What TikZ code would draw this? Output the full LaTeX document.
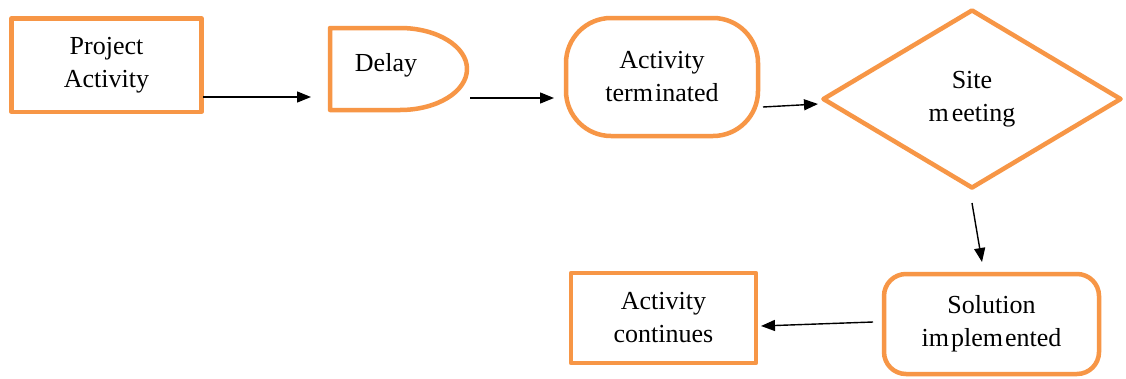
\documentclass[tikz,border=0pt]{standalone}
\usepackage{fontspec}
\setmainfont{Liberation Serif}
\usetikzlibrary{shapes.geometric,arrows.meta}
\definecolor{boxorange}{HTML}{F79646}
\begin{document}
\begin{tikzpicture}[x=1pt,y=-1pt,
  line join=round,
  orangeline/.style={draw=boxorange,line width=4.5pt},
  box/.style={orangeline,align=center,inner sep=0pt,font=\fontsize{26}{33}\selectfont},
  txt/.style={align=center,inner sep=0pt,font=\fontsize{26}{33}\selectfont},
  arr/.style={line width=1.4pt,-{Triangle[length=14pt,width=11pt]}}]
\useasboundingbox[fill=white] (0,0) rectangle (1126,378);

% nodes
\node[box,rectangle,minimum width=190pt,minimum height=93.5pt] (pa) at (106.5,65) {Project\\Activity};

\draw[orangeline] (330,28) -- (400,28) arc[start angle=-90,end angle=90,x radius=67,y radius=41] -- (330,110) -- cycle;
\node[txt] (delay) at (386,65) {Delay};

\node[box,rectangle,rounded corners=45pt,minimum width=192pt,minimum height=118pt] (at) at (662,77) {Activity\\term\kern2pt inated};

\node[box,diamond,minimum width=299pt,minimum height=179pt] (sm) at (972,99) {Site\\m\kern3pt eeting};

\node[box,rectangle,rounded corners=22pt,minimum width=215pt,minimum height=100pt] (si) at (991.5,324) {Solution\\im\kern2pt plem\kern2pt ented};

\node[box,rectangle,minimum width=185pt,minimum height=90pt] (ac) at (663.5,318) {Activity\\continues};

% connector end points
\coordinate (a1s) at (203,97);
\coordinate (a1e) at (311,97);
\coordinate (a2s) at (470,98);
\coordinate (a2e) at (554,98);
\coordinate (a3s) at (763,107);
\coordinate (a3e) at (818,104);
\coordinate (a4s) at (972,203);
\coordinate (a4e) at (982,262);
\coordinate (a5s) at (873,322);
\coordinate (a5e) at (761,326);

\draw[arr] (a1s) -- (a1e);
\draw[arr] (a2s) -- (a2e);
\draw[arr] (a3s) -- (a3e);
\draw[arr] (a4s) -- (a4e);
\draw[arr] (a5s) -- (a5e);
\end{tikzpicture}
\end{document}
